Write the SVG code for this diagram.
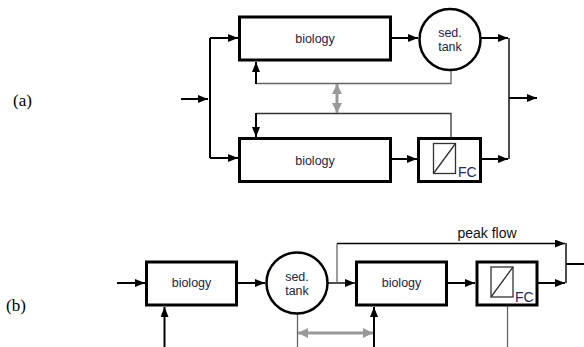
<svg xmlns="http://www.w3.org/2000/svg" width="584" height="347" viewBox="0 0 584 347">
<defs>
<marker id="ah" viewBox="0 0 10 8" refX="10" refY="4" markerWidth="10" markerHeight="8" markerUnits="userSpaceOnUse" orient="auto"><path d="M0,0 L10,4 L0,8 z" fill="#000"/></marker>
<marker id="gh" viewBox="0 0 10 10" refX="10" refY="5" markerWidth="10" markerHeight="10" markerUnits="userSpaceOnUse" orient="auto-start-reverse"><path d="M0,0 L10,5 L0,10 z" fill="#999"/></marker>
<style>
.box{fill:#fff;stroke:#000;stroke-width:3}
.tank{fill:#fff;stroke:#000;stroke-width:2.5}
.inner{fill:none;stroke:#333;stroke-width:1.3}
.t{font-family:"Liberation Sans",Arial,sans-serif;font-size:12.5px;fill:#1e2440;text-anchor:middle}
.fc{font-family:"Liberation Sans",Arial,sans-serif;font-size:14px;fill:#1e2a60}
.lab{font-family:"Liberation Serif","Times New Roman",serif;font-size:17px;fill:#000}
.thick{fill:none;stroke:#000;stroke-width:2}
.thin{fill:none;stroke:#000;stroke-width:1.4}
.grey{fill:none;stroke:#666;stroke-width:1.3}
.dgrey{fill:none;stroke:#333;stroke-width:1.3}
.dbl{fill:none;stroke:#999;stroke-width:3}
</style>
</defs>
<text class="lab" x="13" y="106">(a)</text>
<text class="lab" x="6" y="311">(b)</text>
<g id="connectors">
<!-- (a) -->
<path class="thick" d="M181,99 H208" marker-end="url(#ah)"/>
<path class="thick" d="M210,38 V158"/>
<path class="thick" d="M210,38 H238" marker-end="url(#ah)"/>
<path class="thick" d="M210,158 H238" marker-end="url(#ah)"/>
<path class="thick" d="M392,38 H418" marker-end="url(#ah)"/>
<path class="thick" d="M481,38 H508" marker-end="url(#ah)"/>
<path class="thick" d="M392,159 H417" marker-end="url(#ah)"/>
<path class="thick" d="M456,159 H508" marker-end="url(#ah)"/>
<path class="thin" d="M509,38 V159"/>
<path class="thick" d="M509,98 H537" marker-end="url(#ah)"/>
<path class="grey" d="M451,70 V83.5 H256"/>
<path class="thick" d="M256,84 V62" marker-end="url(#ah)"/>
<path class="dgrey" d="M451,137 V113.5 H256"/>
<path class="thick" d="M256,113 V137" marker-end="url(#ah)"/>
<path class="dbl" d="M337,84 V113" marker-start="url(#gh)" marker-end="url(#gh)"/>
<!-- (b) -->
<path class="thick" d="M117,283 H145" marker-end="url(#ah)"/>
<path class="thick" d="M238,283 H265" marker-end="url(#ah)"/>
<path class="thin" d="M328,283 H355" marker-end="url(#ah)"/>
<path class="grey" d="M337,283 V243.5"/>
<path class="thin" d="M337,243.5 H565" marker-end="url(#ah)"/>
<path class="thick" d="M448,283 H475" marker-end="url(#ah)"/>
<path class="thick" d="M513,283 H565" marker-end="url(#ah)"/>
<path class="thin" d="M566,243 V283"/>
<path class="thick" d="M566,264 H584"/>
<path class="thick" d="M164.5,347 V307" marker-end="url(#ah)"/>
<path class="thick" d="M374,347 V307" marker-end="url(#ah)"/>
<path class="grey" d="M297.5,314 V347"/>
<path class="grey" d="M507.5,306 V347"/>
<path class="dbl" d="M298,333 H373" marker-start="url(#gh)" marker-end="url(#gh)"/>
</g>
<g id="a-biology-top"><rect class="box" x="239.5" y="17" width="151" height="43"/><text class="t" x="315" y="43">biology</text></g>
<g id="a-sedtank"><circle class="tank" cx="450" cy="39.5" r="30.5"/><text class="t" x="450" y="37">sed.</text><text class="t" x="450" y="51">tank</text></g>
<g id="a-biology-bottom"><rect class="box" x="239.5" y="138.5" width="151" height="43"/><text class="t" x="315" y="164.5">biology</text></g>
<g id="a-fc"><rect class="box" x="418.5" y="138.5" width="62" height="43"/><rect class="inner" x="433.5" y="143.5" width="22" height="30"/><path class="inner" d="M433.5,173.5 L455.5,143.5"/><text class="fc" x="458" y="176.5">FC</text></g>
<g id="b-biology-1"><rect class="box" x="146.5" y="262" width="90" height="43"/><text class="t" x="191.5" y="287">biology</text></g>
<g id="b-sedtank"><circle class="tank" cx="297" cy="283" r="30.5"/><text class="t" x="297" y="281">sed.</text><text class="t" x="297" y="295">tank</text></g>
<g id="b-biology-2"><rect class="box" x="356.5" y="262" width="90" height="43"/><text class="t" x="401.5" y="287">biology</text></g>
<g id="b-fc"><rect class="box" x="477" y="262" width="60" height="43"/><rect class="inner" x="491" y="267" width="22" height="30"/><path class="inner" d="M491,297 L513,267"/><text class="fc" x="515" y="301.5">FC</text></g>
<text x="487" y="238" style="font-family:'Liberation Sans',Arial,sans-serif;font-size:14px;fill:#111;text-anchor:middle">peak flow</text>
</svg>
